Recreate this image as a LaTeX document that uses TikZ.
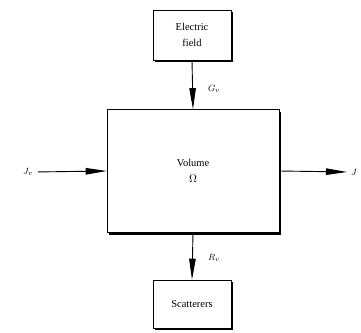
\documentclass[tikz,border=0pt]{standalone}
\usepackage{fontspec}
\setmainfont{Liberation Serif}
\usetikzlibrary{arrows.meta,shadows}
\begin{document}
\begin{tikzpicture}[x=1pt,y=-1pt,
  block/.style={draw, line width=0.6pt, fill=white, align=center,
    font=\fontsize{10.5}{16}\selectfont, inner sep=0pt,
    drop shadow={shadow xshift=2pt, shadow yshift=-2pt, fill=black, opacity=1}},
  flow/.style={line width=0.9pt, -{Triangle[length=21pt,width=6.5pt]}},
  lbl/.style={font=\fontsize{9.5}{10}\selectfont, inner sep=1pt}
]
\useasboundingbox (0,0) rectangle (361,332);

% blocks
\node[block, minimum width=78pt, minimum height=50pt] (ef) at (192,35) {Electric\\field};
\node[block, minimum width=172pt, minimum height=123pt] (vol) at (193,171) {Volume\\$\Omega$};
\node[block, minimum width=78pt, minimum height=48pt] (sc) at (192,304) {Scatterers};

% flow labels
\node[lbl] (gv) at (214,89) {$G_v$};
\node[lbl] (rv) at (214,258) {$R_v$};
\node[lbl] (jv) at (28,172) {$J_v$};
\node[lbl, anchor=west] (jo) at (350,172) {$J$};

% flows
\draw[flow] (ef.south) -- (vol.north);
\draw[flow] (vol.south) -- (sc.north);
\draw[flow, shorten <=4pt] (jv.east) -- (vol.west);
\draw[flow, shorten >=3pt] (vol.east) -- (jo.west);
\end{tikzpicture}
\end{document}
